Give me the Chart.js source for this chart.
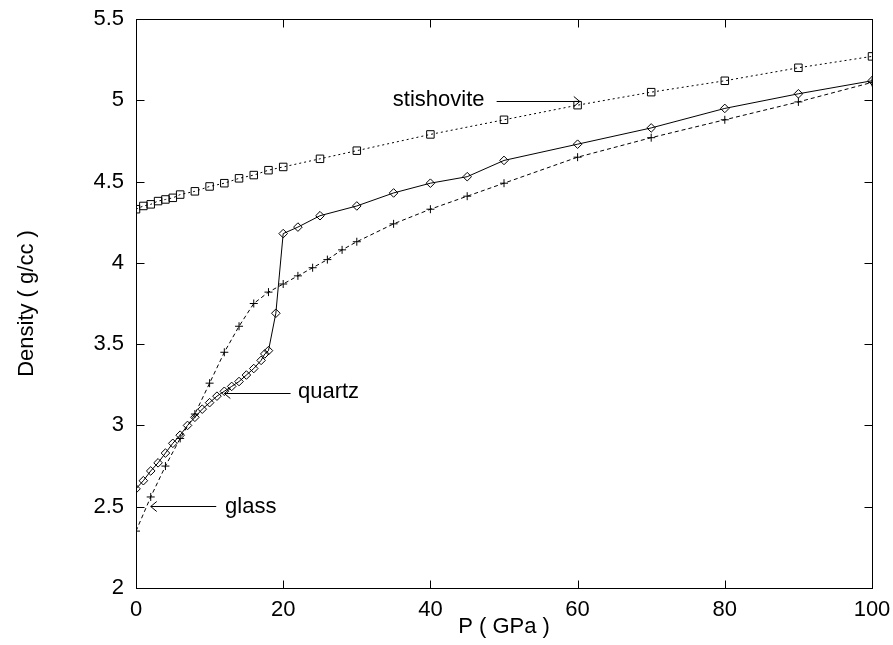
<!DOCTYPE html>
<html lang="en">
  <head>
    <meta charset="UTF-8" />
    <title>Density vs pressure</title>
    <script src="https://cdn.jsdelivr.net/npm/chart.js"></script>
    <style>
      body {
        margin: 0;
        background: #fff;
      }
      #wrap {
        width: 893px;
        height: 645px;
      }
    </style>
  </head>
  <body>
    <div id="wrap"><canvas id="chart" width="893" height="645"></canvas></div>

    <script>
      // pressure (GPa) and density (g/cc)
      const stishP = [0, 1, 2, 3, 4, 5, 6, 8, 10, 12, 14, 16, 18, 20, 25, 30, 40, 50, 60, 70, 80, 90, 100];
      const stishD = [4.33, 4.35, 4.36, 4.38, 4.39, 4.40, 4.42, 4.44, 4.47, 4.49, 4.52, 4.54, 4.57, 4.59, 4.64, 4.69, 4.79, 4.88, 4.97, 5.05, 5.12, 5.20, 5.27];

      const quartzP = [0, 1, 2, 3, 4, 5, 6, 7, 8, 9, 10, 11, 12, 13, 14, 15, 16, 17, 17.5, 18, 19, 20, 22, 25, 30, 35, 40, 45, 50, 60, 70, 80, 90, 100];
      const quartzD = [2.61, 2.66, 2.72, 2.77, 2.83, 2.89, 2.94, 3.00, 3.05, 3.10, 3.14, 3.18, 3.21, 3.24, 3.27, 3.31, 3.35, 3.40, 3.44, 3.46, 3.69, 4.18, 4.22, 4.29, 4.35, 4.43, 4.49, 4.53, 4.63, 4.73, 4.83, 4.95, 5.04, 5.12];

      const glassP = [0, 2, 4, 6, 8, 10, 12, 14, 16, 18, 20, 22, 24, 26, 28, 30, 35, 40, 45, 50, 60, 70, 80, 90, 100];
      const glassD = [2.35, 2.56, 2.75, 2.92, 3.07, 3.26, 3.45, 3.61, 3.75, 3.82, 3.87, 3.92, 3.97, 4.02, 4.08, 4.13, 4.24, 4.33, 4.41, 4.49, 4.65, 4.77, 4.88, 4.99, 5.11];

      const xTicks = [0, 20, 40, 60, 80, 100];
      const yTicks = [2, 2.5, 3, 3.5, 4, 4.5, 5, 5.5];

      // text labels with arrows: [label, textP, textD, arrowFromP, arrowToP, arrowD]
      const notes = [
        ["stishovite", 34.9, 5.0, 49.0, 60.3, 4.995],
        ["quartz", 22.0, 3.205, 21.0, 12.0, 3.2],
        ["glass", 12.1, 2.5, 10.9, 2.0, 2.503],
      ];

      const toPts = (xs, ys) => xs.map((x, i) => ({ x: x, y: ys[i] }));
      const FONT = "'Liberation Sans', Arial, sans-serif";
      const FS = 22;

      // gnuplot-style frame with inward ticks and the arrow notes
      const framePlugin = {
        id: "frame",
        afterDatasetsDraw(chart) {
          const { ctx, chartArea: a, scales } = chart;
          const len = 8;
          ctx.save();
          ctx.strokeStyle = "#000";
          ctx.lineWidth = 1;
          ctx.setLineDash([]);
          const l = Math.round(a.left) + 0.5;
          const t = Math.round(a.top) + 0.5;
          const r = Math.round(a.right) + 0.5;
          const b = Math.round(a.bottom) + 0.5;
          ctx.strokeRect(l, t, r - l, b - t);
          ctx.beginPath();
          xTicks.forEach((v) => {
            const px = Math.round(scales.x.getPixelForValue(v)) + 0.5;
            ctx.moveTo(px, b);
            ctx.lineTo(px, b - len);
            ctx.moveTo(px, t);
            ctx.lineTo(px, t + len);
          });
          yTicks.forEach((v) => {
            const py = Math.round(scales.y.getPixelForValue(v)) + 0.5;
            ctx.moveTo(l, py);
            ctx.lineTo(l + len, py);
            ctx.moveTo(r, py);
            ctx.lineTo(r - len, py);
          });
          ctx.stroke();

          ctx.fillStyle = "#000";
          ctx.font = FS + "px " + FONT;
          ctx.textBaseline = "middle";
          ctx.textAlign = "left";
          notes.forEach(([label, tp, td, fromP, toP, ad]) => {
            const tx = scales.x.getPixelForValue(tp);
            const ty = scales.y.getPixelForValue(td);
            ctx.fillText(label, tx, ty);
            const x1 = scales.x.getPixelForValue(fromP);
            const x2 = scales.x.getPixelForValue(toP);
            const y = Math.round(scales.y.getPixelForValue(ad)) + 0.5;
            const dir = x2 > x1 ? 1 : -1;
            ctx.beginPath();
            ctx.moveTo(x1, y);
            ctx.lineTo(x2, y);
            ctx.moveTo(x2 - dir * 6, y - 5);
            ctx.lineTo(x2, y);
            ctx.lineTo(x2 - dir * 6, y + 5);
            ctx.stroke();
          });
          ctx.restore();
        },
      };

      new Chart(document.getElementById("chart"), {
        type: "scatter",
        data: {
          datasets: [
            {
              label: "stishovite",
              data: toPts(stishP, stishD),
              showLine: true,
              borderColor: "#000",
              borderWidth: 1,
              borderDash: [2, 3],
              pointStyle: "rect",
              pointRadius: 5.3,
              pointBorderWidth: 1,
              pointBackgroundColor: "rgba(0,0,0,0)",
              pointBorderColor: "#000",
            },
            {
              label: "quartz",
              data: toPts(quartzP, quartzD),
              showLine: true,
              borderColor: "#000",
              borderWidth: 1,
              pointStyle: "rectRot",
              pointRadius: 4.3,
              pointBorderWidth: 1,
              pointBackgroundColor: "rgba(0,0,0,0)",
              pointBorderColor: "#000",
            },
            {
              label: "glass",
              data: toPts(glassP, glassD),
              showLine: true,
              borderColor: "#000",
              borderWidth: 1,
              borderDash: [4, 3],
              pointStyle: "cross",
              pointRadius: 4,
              pointBorderWidth: 1,
              pointBorderColor: "#000",
            },
          ],
        },
        options: {
          responsive: false,
          animation: false,
          layout: { padding: { left: 0, right: 21, top: 19, bottom: 0 } },
          plugins: {
            legend: { display: false },
            tooltip: { enabled: false },
          },
          scales: {
            x: {
              type: "linear",
              min: 0,
              max: 100,
              afterBuildTicks: (s) => {
                s.ticks = xTicks.map((v) => ({ value: v }));
              },
              afterFit: (s) => {
                // plot box is fixed, tick labels may overhang
                s.height = 57;
                s.paddingLeft = 0;
                s.paddingRight = 0;
              },
              grid: { display: false, drawTicks: false },
              border: { display: false },
              ticks: {
                color: "#000",
                padding: 9,
                maxRotation: 0,
                font: { family: FONT, size: FS },
              },
              title: {
                display: true,
                text: "P ( GPa )",
                color: "#000",
                font: { family: FONT, size: FS },
                padding: { top: 0, bottom: 5 },
              },
            },
            y: {
              type: "linear",
              min: 2,
              max: 5.5,
              afterBuildTicks: (s) => {
                s.ticks = yTicks.map((v) => ({ value: v }));
              },
              afterFit: (s) => {
                s.width = 136;
                s.paddingTop = 0;
                s.paddingBottom = 0;
              },
              grid: { display: false, drawTicks: false },
              border: { display: false },
              ticks: {
                color: "#000",
                padding: 12,
                font: { family: FONT, size: FS },
                callback: (v) => String(v),
              },
              title: {
                display: true,
                text: "Density ( g/cc )",
                color: "#000",
                font: { family: FONT, size: FS },
                padding: { top: 14, bottom: 0 },
              },
            },
          },
        },
        plugins: [framePlugin],
      });
    </script>
  </body>
</html>
